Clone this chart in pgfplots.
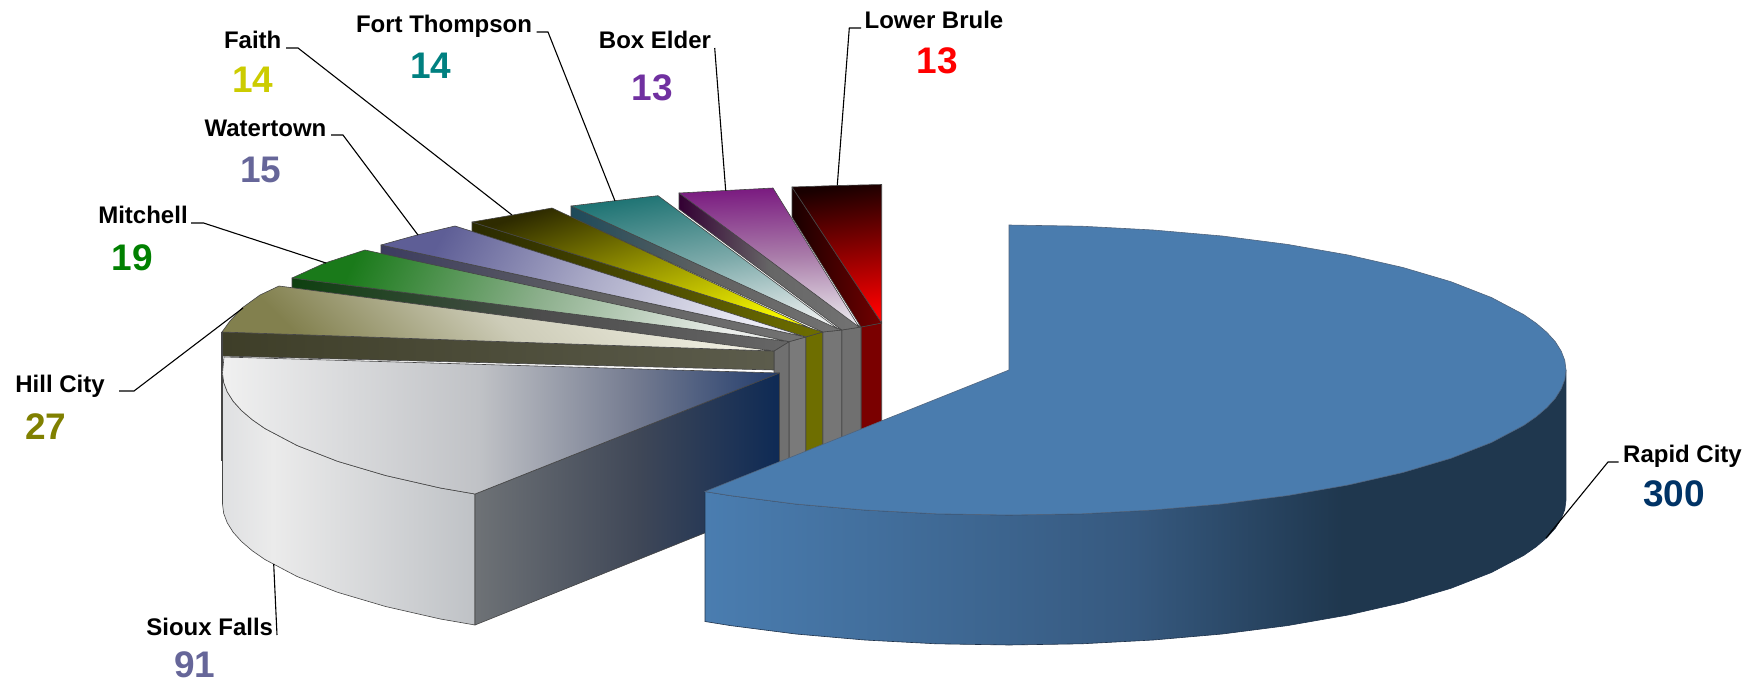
\documentclass[border=0pt]{standalone}
\usepackage{fontspec}
\setmainfont{Liberation Sans}
\usepackage{pgfplots}
\pgfplotsset{compat=1.18}

\definecolor{rapidtop}{HTML}{4A7CAE}
\definecolor{rapidnum}{HTML}{003366}
\definecolor{edge}{HTML}{454545}

% side walls run left to right, 25bp..75bp is the width of the path
\definecolor{rs1}{HTML}{4A7DB0}\definecolor{rs2}{HTML}{36597F}\definecolor{rs3}{HTML}{1F374E}
\pgfdeclarehorizontalshading{rapidside}{100bp}{color(0bp)=(rs1); color(25bp)=(rs1); color(50bp)=(rs2); color(62bp)=(rs3); color(100bp)=(rs3)}
\definecolor{st1}{HTML}{F0F0F0}\definecolor{st2}{HTML}{C0C2C6}\definecolor{st3}{HTML}{747B90}\definecolor{st4}{HTML}{223C6C}
\pgfdeclarehorizontalshading{siouxtop}{100bp}{color(0bp)=(st1); color(25bp)=(st1); color(48bp)=(st2); color(62bp)=(st3); color(75bp)=(st4); color(100bp)=(st4)}
\definecolor{ss1}{HTML}{DFE0E2}\definecolor{ss2}{HTML}{EBEBEB}\definecolor{ss3}{HTML}{BFC2C6}
\pgfdeclarehorizontalshading{siouxside}{100bp}{color(0bp)=(ss1); color(25bp)=(ss1); color(35bp)=(ss2); color(75bp)=(ss3); color(100bp)=(ss3)}
\definecolor{sc1}{HTML}{6E7276}\definecolor{sc3}{HTML}{3F4757}\definecolor{sc2}{HTML}{0E2A55}
\pgfdeclarehorizontalshading{siouxcut}{100bp}{color(0bp)=(sc1); color(25bp)=(sc1); color(52bp)=(sc3); color(75bp)=(sc2); color(100bp)=(sc2)}

\pgfplotsset{
  face/.style={draw=edge,line width=0.3pt,line join=round},
  leader/.style={draw=black,line width=0.55pt},
}
\newcommand{\lab}[3]{\node[anchor=base,inner sep=0pt,font=\fontsize{12}{14}\selectfont\bfseries] at (axis cs:#1,#2) {#3};}
\newcommand{\num}[4]{\node[anchor=base,inner sep=0pt,text=#4,font=\fontsize{18.5}{20}\selectfont\bfseries] at (axis cs:#1,#2) {#3};}

\begin{document}
\begin{tikzpicture}
\begin{axis}[
  width=879pt,height=340.5pt,scale only axis,
  xmin=0,xmax=1758,ymin=0,ymax=681,y dir=reverse,
  hide axis,clip=false,
]
\addplot[draw=none] coordinates {(0,0) (1758,681)};

% walls at the centre, seen between the slices
\addplot[face,fill={rgb,255:red,122;green,0;blue,0}] coordinates {(861,327) (881.7,323) (881.7,450) (861,450)} -- cycle;
\addplot[face,fill={rgb,255:red,112;green,112;blue,112}] coordinates {(841.7,330) (861,327) (861,450) (841.7,450)} -- cycle;
\addplot[face,fill={rgb,255:red,118;green,118;blue,118}] coordinates {(822.7,332) (841.7,330) (841.7,450) (822.7,450)} -- cycle;
\addplot[face,fill={rgb,255:red,110;green,110;blue,0}] coordinates {(805.7,337) (822.7,332) (822.7,460) (805.7,460)} -- cycle;
\addplot[face,fill={rgb,255:red,122;green,122;blue,122}] coordinates {(789,341.7) (805.7,337) (805.7,470) (789,470)} -- cycle;
\addplot[face,fill={rgb,255:red,112;green,112;blue,112}] coordinates {(774,351) (789,341.7) (789,470) (774,470)} -- cycle;

% Lower Brule 13
\addplot[face,left color=black!90!red,right color=red!45!black] coordinates {(792,187) (792,217) (861,327) (881.7,323)} -- cycle;
\addplot[face,top color=black!90!red,bottom color=red,middle color=red!55!black,shading angle=8] coordinates {(792,187) (838,185.5) (881.7,184.5) (881.7,323)} -- cycle;
% Box Elder 13
\addplot[face,left color=black!60!violet,right color=black!55,middle color=black!60] coordinates {(679,193) (679,209) (841.7,330) (861,327)} -- cycle;
\addplot[face,top color={rgb,255:red,122;green,26;blue,128},bottom color={rgb,255:red,235;green,235;blue,238},middle color={rgb,255:red,170;green,125;blue,170},shading angle=2] coordinates {(679,193) (726,190.5) (773,188) (859,327)} -- cycle;
% Fort Thompson 14
\addplot[face,left color={rgb,255:red,29;green,74;blue,90},right color=black!55,middle color=black!62] coordinates {(571,206) (571,217) (822.7,332) (841.7,330)} -- cycle;
\addplot[face,top color={rgb,255:red,31;green,116;blue,116},bottom color={rgb,255:red,235;green,238;blue,238},middle color={rgb,255:red,125;green,170;blue,170},shading angle=10] coordinates {(571,206) (615,200.7) (658,195.7) (838,329)} -- cycle;
% Faith 14
\addplot[face,left color={rgb,255:red,42;green,42;blue,0},right color={rgb,255:red,110;green,110;blue,0}] coordinates {(472,222) (472,235) (805.7,337) (822.7,332) (810,328)} -- cycle;
\addplot[face,top color={rgb,255:red,46;green,43;blue,0},bottom color={rgb,255:red,245;green,245;blue,0},middle color={rgb,255:red,150;green,148;blue,0},shading angle=18] coordinates {(472,222) (513,215) (552,208) (810,328)} -- cycle;
% Watertown 15
\addplot[face,left color={rgb,255:red,60;green,60;blue,96},right color=black!55,middle color=black!62] coordinates {(381,245) (381,255) (789,341.7) (805.7,337)} -- cycle;
\addplot[face,top color={rgb,255:red,94;green,94;blue,150},bottom color={rgb,255:red,235;green,235;blue,244},middle color={rgb,255:red,172;green,172;blue,200},shading angle=60] coordinates {(381,245) (417,235) (455,226) (805.7,337)} -- cycle;
% Mitchell 19
\addplot[face,left color={rgb,255:red,14;green,64;blue,16},right color=black!60,middle color=black!70] coordinates {(292,278) (292,288) (774,351) (789,341.7)} -- cycle;
\addplot[face,top color={rgb,255:red,26;green,122;blue,26},bottom color={rgb,255:red,235;green,238;blue,235},middle color={rgb,255:red,140;green,175;blue,140},shading angle=65] coordinates {(292,278) (325,263) (365,250) (789,341.7)} -- cycle;
% Hill City 27
\addplot[face,left color={rgb,255:red,62;green,62;blue,40},right color={rgb,255:red,92;green,92;blue,76}] coordinates {(222,332) (222,356) (774,370) (774,351)} -- cycle;
\addplot[face,top color={rgb,255:red,240;green,239;blue,226},bottom color={rgb,255:red,130;green,128;blue,78},middle color={rgb,255:red,205;green,204;blue,184},shading angle=-45] coordinates {(279,286) (260,295) (242,308) (230,321) (222,332) (774,351)} -- cycle;

% Sioux Falls 91
\addplot[edge,line width=0.6pt] coordinates {(222,332) (222,461)};
\addplot[face,shading=siouxside] coordinates {(222.5,373) (223.7,382.5) (227.3,391.9) (233.2,401.3) (241.5,410.5) (252.1,419.6) (264.9,428.5) (297.1,445.5) (337.6,461.3) (385.6,475.5) (440.4,488) (475,494) (475,625) (440.4,619) (385.6,606.5) (337.6,592.3) (297.1,576.5) (264.9,559.5) (252.1,550.6) (241.5,541.5) (233.2,532.3) (227.3,522.9) (223.7,513.5) (222.5,504)} -- cycle;
\addplot[face,shading=siouxcut] coordinates {(475,494) (779.5,373) (779.5,503) (475,625)} -- cycle;
\addplot[face,shading=siouxtop] coordinates {(224,357) (222.5,373) (223.7,382.5) (227.3,391.9) (233.2,401.3) (241.5,410.5) (252.1,419.6) (264.9,428.5) (297.1,445.5) (337.6,461.3) (385.6,475.5) (440.4,488) (475,494) (779.5,373)} -- cycle;

% Rapid City 300
\addplot[draw={rgb,255:red,30;green,50;blue,75},line width=0.3pt,shading=rapidside] coordinates {(1566,370) (1564.8,379.5) (1561.2,388.9) (1555.3,398.3) (1547,407.5) (1536.4,416.6) (1523.6,425.5) (1491.4,442.5) (1450.9,458.3) (1402.9,472.5) (1348.1,485) (1287.5,495.6) (1222.2,504) (1153.2,510) (1081.7,513.8) (1009,515) (936.3,513.8) (864.8,510) (795.8,504) (730.5,495.6) (705,491.5) (705,621.5) (730.5,625.6) (795.8,634) (864.8,640) (936.3,643.8) (1009,645) (1081.7,643.8) (1153.2,640) (1222.2,634) (1287.5,625.6) (1348.1,615) (1402.9,602.5) (1450.9,588.3) (1491.4,572.5) (1523.6,555.5) (1536.4,546.6) (1547,537.5) (1555.3,528.3) (1561.2,518.9) (1564.8,509.5) (1566,500)} -- cycle;
\addplot[draw={rgb,255:red,80;green,100;blue,125},line width=0.3pt,fill=rapidtop] coordinates {(1009,225) (1081.7,226.2) (1153.2,230) (1222.2,236) (1287.5,244.4) (1348.1,255) (1402.9,267.5) (1450.9,281.7) (1491.4,297.5) (1523.6,314.5) (1536.4,323.4) (1547,332.5) (1555.3,341.7) (1561.2,351.1) (1564.8,360.5) (1566,370) (1564.8,379.5) (1561.2,388.9) (1555.3,398.3) (1547,407.5) (1536.4,416.6) (1523.6,425.5) (1491.4,442.5) (1450.9,458.3) (1402.9,472.5) (1348.1,485) (1287.5,495.6) (1222.2,504) (1153.2,510) (1081.7,513.8) (1009,515) (936.3,513.8) (864.8,510) (795.8,504) (730.5,495.6) (705,491.5) (1009,370)} -- cycle;

% leader lines
\addplot[leader] coordinates {(286,48) (298,48) (512,215)};
\addplot[leader] coordinates {(536.5,32) (548,32) (615,201)};
\addplot[leader] coordinates {(331,135) (343,135) (418,235)};
\addplot[leader] coordinates {(191,223) (203.6,223) (326,263)};
\addplot[leader] coordinates {(119,391) (134,391) (243,308)};
\addplot[leader] coordinates {(714.7,48) (725.7,190.7)};
\addplot[leader] coordinates {(861,28) (849.3,28) (837.3,185)};
\addplot[leader] coordinates {(1618.5,462) (1608,462) (1546,538)};
\addplot[leader] coordinates {(277,635) (273.7,564)};

% labels
\lab{252.7}{48}{Faith}
\num{253}{92}{14}{{rgb,255:red,204;green,204;blue,0}}
\lab{444}{32}{Fort Thompson}
\num{431}{78}{14}{{rgb,255:red,0;green,128;blue,128}}
\lab{265.5}{136}{Watertown}
\num{260.7}{182}{15}{{rgb,255:red,102;green,102;blue,153}}
\lab{143}{223}{Mitchell}
\num{132.4}{270}{19}{{rgb,255:red,0;green,128;blue,0}}
\lab{655}{48}{Box Elder}
\num{652}{100}{13}{{rgb,255:red,112;green,48;blue,160}}
\lab{934}{28}{Lower Brule}
\num{937}{73}{13}{red}
\lab{60}{392}{Hill City}
\num{46}{439}{27}{{rgb,255:red,128;green,128;blue,0}}
\lab{209.7}{635}{Sioux Falls}
\num{195}{677}{91}{{rgb,255:red,102;green,102;blue,153}}
\lab{1682.5}{462}{Rapid City}
\num{1674}{506}{300}{rapidnum}
\end{axis}
\end{tikzpicture}
\end{document}
